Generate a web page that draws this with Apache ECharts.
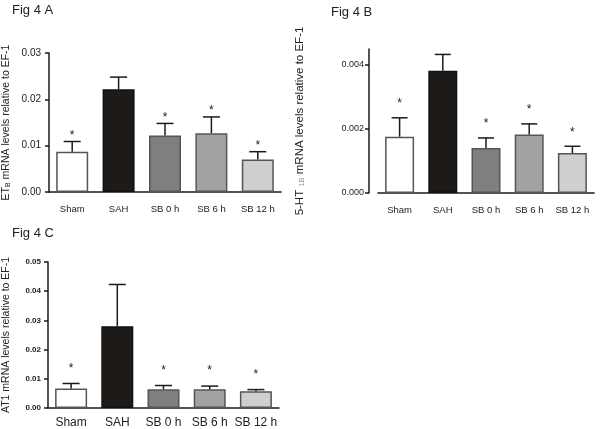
<!DOCTYPE html>
<html><head><meta charset="utf-8">
<script src="https://cdn.jsdelivr.net/npm/echarts@6/dist/echarts.min.js"></script>
<style>html,body{margin:0;padding:0;background:#fff}#c{width:600px;height:429px}</style>
</head><body><div id="c"></div>
<script>
var categories = ['Sham', 'SAH', 'SB 0 h', 'SB 6 h', 'SB 12 h'];
var barColors = ['#ffffff', '#1e1a17', '#7f7f7f', '#a2a2a2', '#cfcfcf'];
// Fig 4 A: ETB
var valuesA = [0.0087, 0.0222, 0.0122, 0.0127, 0.0070];
var errTopA = [0.0109, 0.0248, 0.0148, 0.0162, 0.0087];
var starsA  = [1, 0, 1, 1, 1];
var ticksA = [0, 0.01, 0.02, 0.03];
// Fig 4 B: 5-HT1B
var valuesB = [0.00176, 0.00382, 0.00141, 0.00183, 0.00125];
var errTopB = [0.00235, 0.00433, 0.00172, 0.00216, 0.00146];
var starsB  = [1, 0, 1, 1, 1];
var ticksB = [0, 0.002, 0.004];
// Fig 4 C: AT1
var valuesC = [0.0067, 0.0280, 0.0064, 0.0064, 0.0057];
var errTopC = [0.0084, 0.0423, 0.0077, 0.0075, 0.0063];
var starsC  = [1, 0, 1, 1, 1];
var ticksC = [0, 0.01, 0.02, 0.03, 0.04, 0.05];

var FONT = 'Liberation Sans, Arial, sans-serif';
var AX = '#1a1a1a';

function errRender(offset, cap) {
  return function (params, api) {
    var x = api.value(0), v = api.value(1), e = api.value(2), s = api.value(3);
    var p0 = api.coord([x, v]), p1 = api.coord([x, e]);
    var st = {stroke: AX, lineWidth: 1.5};
    var ch = [
      {type: 'line', shape: {x1: p0[0], y1: p0[1], x2: p1[0], y2: p1[1]}, style: st},
      {type: 'line', shape: {x1: p1[0] - cap, y1: p1[1], x2: p1[0] + cap, y2: p1[1]}, style: st}
    ];
    if (s) ch.push({type: 'text', x: p1[0], y: p1[1] - offset,
      style: {text: '*', fontSize: 12, fontFamily: FONT, fill: '#222', align: 'center', verticalAlign: 'middle'}});
    return {type: 'group', children: ch};
  };
}

function barData(vals) {
  return vals.map(function (v, i) {
    return {value: v, itemStyle: {color: barColors[i], borderColor: i === 1 ? '#111' : '#555', borderWidth: 1.5}};
  });
}
function errData(vals, errs, stars) {
  return vals.map(function (v, i) { return [i, v, errs[i], stars[i]]; });
}

function xAx(gi, fs, margin) {
  return {type: 'category', gridIndex: gi, data: categories,
    axisLine: {lineStyle: {color: AX, width: 1.5}},
    axisTick: {alignWithLabel: true, length: 4, lineStyle: {color: AX, width: 1.5}},
    axisLabel: {interval: 0, hideOverlap: false, fontSize: fs, fontFamily: FONT, color: '#222', margin: margin}};
}

var option = {
  animation: false,
  backgroundColor: '#fff',
  title: [
    {text: 'Fig 4 A', left: 7, top: -1, textStyle: {fontSize: 13, fontWeight: 'normal', fontFamily: FONT, color: '#222'}},
    {text: 'Fig 4 B', left: 326, top: 1, textStyle: {fontSize: 13, fontWeight: 'normal', fontFamily: FONT, color: '#222'}},
    {text: 'Fig 4 C', left: 7, top: 222, textStyle: {fontSize: 13, fontWeight: 'normal', fontFamily: FONT, color: '#222'}}
  ],
  grid: [
    {left: 47, top: 53, width: 234, height: 139},
    {left: 378, top: 49, width: 216, height: 144},
    {left: 46, top: 262, width: 233, height: 147}
  ],
  xAxis: [xAx(0, 9.5, 12), xAx(1, 9.5, 12), xAx(2, 12, 9)],
  yAxis: [
    {type: 'value', gridIndex: 0, min: 0, max: 0.03, interval: 0.01,
      splitLine: {show: false},
      axisLine: {show: true, lineStyle: {color: AX, width: 1.5}},
      axisTick: {show: true, length: 4, lineStyle: {color: AX, width: 1.5}},
      axisLabel: {fontSize: 10, fontFamily: FONT, color: '#222', margin: 8, formatter: function (v) { return v.toFixed(2); }},
      name: '{a|ET}{b|B}{a| mRNA levels relative to EF-1}', nameLocation: 'middle', nameRotate: 90, nameGap: 37,
      nameTextStyle: {rich: {a: {fontSize: 10.5, fontFamily: FONT, color: '#222'}, b: {fontSize: 7, fontFamily: FONT, color: '#222', verticalAlign: 'bottom'}}}
    },
    {type: 'value', gridIndex: 1, min: 0, max: 0.0045, offset: 9,
      splitLine: {show: false},
      axisLine: {show: true, lineStyle: {color: AX, width: 1.5}},
      axisTick: {show: true, length: 4, customValues: ticksB, lineStyle: {color: AX, width: 1.5}},
      axisLabel: {fontSize: 9, fontFamily: FONT, color: '#222', margin: 5, customValues: ticksB, formatter: function (v) { return v.toFixed(3); }},
      name: '{a|5-HT }{b|1B}{a| mRNA levels relative to EF-1}', nameLocation: 'middle', nameRotate: 90, nameGap: 63,
      nameTextStyle: {rich: {a: {fontSize: 11.5, fontFamily: FONT, color: '#222'}, b: {fontSize: 7.5, fontFamily: FONT, color: '#999', verticalAlign: 'bottom'}}}
    },
    {type: 'value', gridIndex: 2, min: 0, max: 0.05, interval: 0.01,
      splitLine: {show: false},
      axisLine: {show: true, lineStyle: {color: AX, width: 1.5}},
      axisTick: {show: true, length: 4, lineStyle: {color: AX, width: 1.5}},
      axisLabel: {fontSize: 8, fontWeight: 'bold', fontFamily: FONT, color: '#222', margin: 7, formatter: function (v) { return v.toFixed(2); }},
      name: 'AT1 mRNA levels relative to EF-1', nameLocation: 'middle', nameRotate: 90, nameGap: 36,
      nameTextStyle: {fontSize: 10.5, fontFamily: FONT, color: '#222'}
    }
  ],
  series: [
    {type: 'bar', xAxisIndex: 0, yAxisIndex: 0, barWidth: 32, data: barData(valuesA)},
    {type: 'custom', xAxisIndex: 0, yAxisIndex: 0, z: 5, renderItem: errRender(6, 8.5), data: errData(valuesA, errTopA, starsA)},
    {type: 'bar', xAxisIndex: 1, yAxisIndex: 1, barWidth: 29, data: barData(valuesB)},
    {type: 'custom', xAxisIndex: 1, yAxisIndex: 1, z: 5, renderItem: errRender(14, 8), data: errData(valuesB, errTopB, starsB)},
    {type: 'bar', xAxisIndex: 2, yAxisIndex: 2, barWidth: 32, data: barData(valuesC)},
    {type: 'custom', xAxisIndex: 2, yAxisIndex: 2, z: 5, renderItem: errRender(15, 8.5), data: errData(valuesC, errTopC, starsC)}
  ]
};
echarts.init(document.getElementById('c'), null, {renderer: 'canvas'}).setOption(option);
</script></body></html>
